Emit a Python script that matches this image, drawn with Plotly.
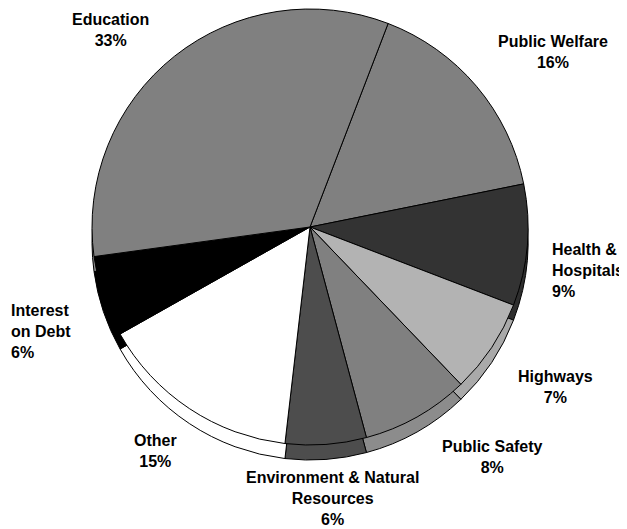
import plotly.graph_objects as go

# ---- data ----
categories = ["Public Welfare", "Health &<br>Hospitals", "Highways", "Public Safety",
              "Environment & Natural<br>Resources", "Other", "Interest<br>on Debt", "Education"]
values = [16, 9, 7, 8, 6, 15, 6, 33]
colors = ["#808080", "#333333", "#b3b3b3", "#808080", "#4d4d4d", "#ffffff", "#000000", "#808080"]
rim_colors = ["#8a8a8a", "#2e2e2e", "#a9a9a9", "#8c8c8c", "#4d4d4d", "#ffffff", "#000000", "#8a8a8a"]

# label placement (pixel centres in the window) and alignment
label_pos = [(553, 52, "center"), (550, 270, "left"), (555, 387, "center"), (492, 457, "center"),
             (332, 498, "center"), (155, 451, "center"), (9, 331, "left"), (110, 30, "center")]

OFF = 8                     # page body margin
W, H = 627 - OFF, 529 - OFF  # figure size so it fits the window
R = 218
CX, CY = 310 - OFF, 227 - OFF
DEPTH = 15


def dom(cx, cy):
    return dict(x=[max(0, (cx - R) / W), min(1, (cx + R) / W)],
                y=[max(0, (H - cy - R) / H), min(1, (H - cy + R) / H)])


fig = go.Figure()
# side / depth of the pie
fig.add_trace(go.Pie(values=values, labels=categories, sort=False, direction="clockwise",
                     rotation=21, textinfo="none", hoverinfo="skip",
                     marker=dict(colors=rim_colors, line=dict(color="black", width=1)),
                     domain=dom(CX, CY + DEPTH), showlegend=False))
# top face
fig.add_trace(go.Pie(values=values, labels=categories, sort=False, direction="clockwise",
                     rotation=21, textinfo="none",
                     marker=dict(colors=colors, line=dict(color="black", width=1)),
                     domain=dom(CX, CY), showlegend=False))

total = sum(values)
for cat, v, (px, py, al) in zip(categories, values, label_pos):
    fig.add_annotation(x=(px - OFF) / W, y=(H - (py - OFF)) / H, xref="paper", yref="paper",
                       text=f"{cat}<br>{round(100 * v / total)}%", showarrow=False,
                       xanchor="left" if al == "left" else "center", yanchor="middle",
                       align=al,
                       font=dict(family="Liberation Sans, Arial, sans-serif", size=16,
                                 color="black", weight="bold"))

fig.update_layout(width=W, height=H, margin=dict(l=0, r=0, t=0, b=0),
                  paper_bgcolor="white", plot_bgcolor="white")
fig.write_html("out.html")
